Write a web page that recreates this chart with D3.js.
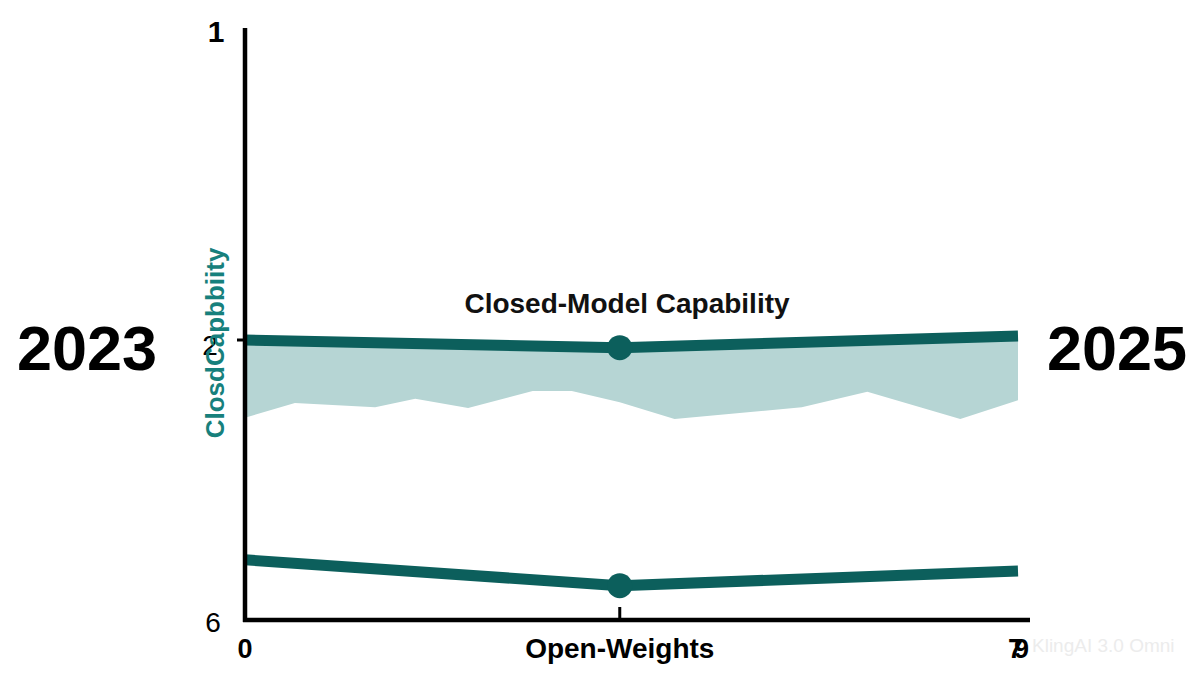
<!DOCTYPE html>
<html>
<head>
<meta charset="utf-8">
<script src="https://cdn.jsdelivr.net/npm/d3@7"></script>
<style>
  html, body { margin: 0; padding: 0; background: #ffffff; }
  svg { display: block; }
  text { font-family: "Liberation Sans", Arial, sans-serif; }
</style>
</head>
<body>
<svg id="chart" width="1200" height="675"></svg>
<script>
// ---- data ----
const yTickValues = [1, 2, 6];
const yTickLabels = ["1", "2", "6"];
const xTickValues = [0, 38.3, 79];
const xTickLabels = ["0", "Open-Weights", "79"];

const closedX = [0, 38.3, 79];
const closedY = [2.0, 2.11, 1.987];

const openX = [0, 38.3, 79];
const openY = [5.14, 5.51, 5.3];

const bandLowX = [0, 5.1, 13.3, 17.4, 22.8, 29.4, 33.4, 38.3, 43.9, 56.9, 63.6, 73.1, 79];
const bandLowY = [3.11, 2.9, 2.96, 2.84, 2.97, 2.73, 2.73, 2.89, 3.13, 2.96, 2.74, 3.13, 2.86];

const titleText = "Closed-Model Capability";
const yAxisTitle = "ClosdCapbbiity";
const leftYear = "2023";
const rightYear = "2025";
const watermark = "KlingAI 3.0 Omni";

// ---- drawing ----
const svg = d3.select("#chart");
const teal = "#0c5f5c";
const bandFill = "#b6d5d4";

const x = d3.scaleLinear().domain([0, 79]).range([245, 1018]);
const y = d3.scaleLinear().domain([1, 2, 6]).range([30, 340, 620]);

const closedPts = closedX.map((d, i) => [d, closedY[i]]);
const openPts = openX.map((d, i) => [d, openY[i]]);
const lowPts = bandLowX.map((d, i) => [d, bandLowY[i]]);

// band polygon: top follows closed line, bottom follows low edge
const bandPts = closedPts.concat(lowPts.slice().reverse());
const poly = d3.line().x(d => x(d[0])).y(d => y(d[1]));
svg.append("path")
  .attr("d", poly(bandPts) + "Z")
  .attr("fill", bandFill);

// lines
[closedPts, openPts].forEach(pts => {
  svg.append("path")
    .attr("d", poly(pts))
    .attr("fill", "none")
    .attr("stroke", teal)
    .attr("stroke-width", 11)
    .attr("stroke-linejoin", "round");
});

// dots at middle point
[closedPts[1], openPts[1]].forEach(p => {
  svg.append("circle")
    .attr("cx", x(p[0]))
    .attr("cy", y(p[1]))
    .attr("r", 12.5)
    .attr("fill", teal);
});

// axes lines
svg.append("line")
  .attr("x1", 245).attr("x2", 245)
  .attr("y1", y(1) - 2).attr("y2", y(6) + 2)
  .attr("stroke", "#000").attr("stroke-width", 4.5);
svg.append("line")
  .attr("x1", 243).attr("x2", 1030)
  .attr("y1", y(6)).attr("y2", y(6))
  .attr("stroke", "#000").attr("stroke-width", 4.5);

// y tick mark for middle value
svg.append("line")
  .attr("x1", 237).attr("x2", 245)
  .attr("y1", y(2)).attr("y2", y(2))
  .attr("stroke", "#000").attr("stroke-width", 3);

// x tick mark for middle
svg.append("line")
  .attr("x1", x(xTickValues[1])).attr("x2", x(xTickValues[1]))
  .attr("y1", y(6) - 13).attr("y2", y(6))
  .attr("stroke", "#000").attr("stroke-width", 3);

// y tick labels
const yLabelPos = [
  { dx: 216, dy: 42, size: 30, weight: 700 },
  { dx: 210, dy: 355, size: 28, weight: 500 },
  { dx: 213, dy: 632, size: 28, weight: 500 }
];
yTickValues.forEach((v, i) => {
  svg.append("text")
    .attr("x", yLabelPos[i].dx)
    .attr("y", yLabelPos[i].dy)
    .attr("text-anchor", "middle")
    .attr("font-size", yLabelPos[i].size)
    .attr("font-weight", yLabelPos[i].weight)
    .attr("fill", "#000")
    .text(yTickLabels[i]);
});

// x tick labels
xTickValues.forEach((v, i) => {
  const t = svg.append("text")
    .attr("x", i === 2 ? x(v) - 4 : x(v))
    .attr("y", 658)
    .attr("text-anchor", "middle")
    .attr("font-size", i === 1 ? 28 : 27)
    .attr("font-weight", 700)
    .attr("fill", "#000")
    .text(xTickLabels[i]);
  if (i === 2) t.attr("letter-spacing", -9);
});

// watermark
svg.append("text")
  .attr("x", 1032).attr("y", 652)
  .attr("font-size", 19)
  .attr("fill", "#ececec")
  .text(watermark);

// title
svg.append("text")
  .attr("x", 627).attr("y", 313)
  .attr("text-anchor", "middle")
  .attr("font-size", 28)
  .attr("font-weight", 700)
  .attr("fill", "#111")
  .text(titleText);

// rotated y axis title
svg.append("text")
  .attr("transform", "translate(224,343) rotate(-90)")
  .attr("text-anchor", "middle")
  .attr("font-size", 26)
  .attr("font-weight", 700)
  .attr("fill", "#17807c")
  .text(yAxisTitle);

// years
svg.append("text")
  .attr("x", 87).attr("y", 370)
  .attr("text-anchor", "middle")
  .attr("font-size", 63)
  .attr("font-weight", 700)
  .attr("fill", "#000")
  .text(leftYear);
svg.append("text")
  .attr("x", 1117).attr("y", 370)
  .attr("text-anchor", "middle")
  .attr("font-size", 63)
  .attr("font-weight", 700)
  .attr("fill", "#000")
  .text(rightYear);
</script>
</body>
</html>
